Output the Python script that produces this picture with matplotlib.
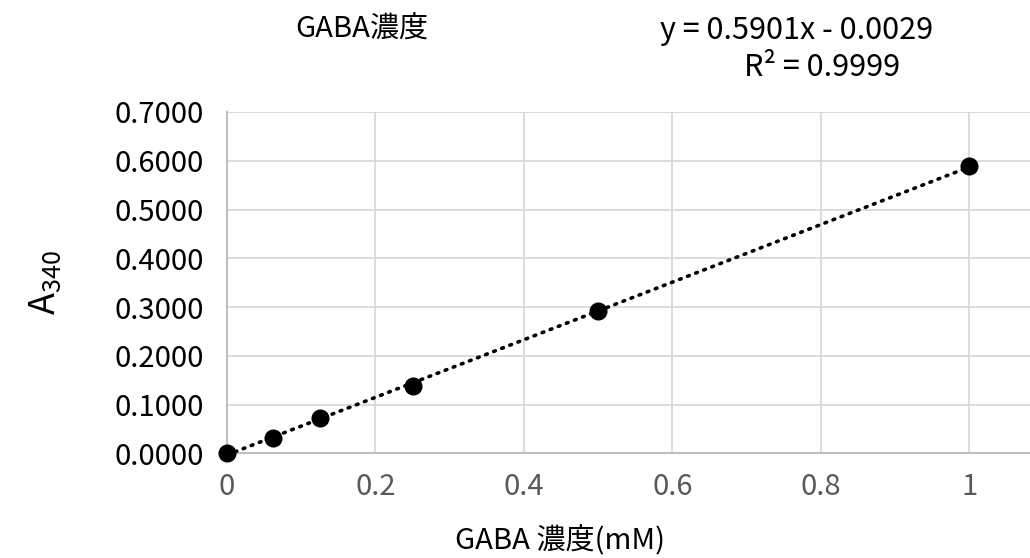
import numpy as np
import matplotlib
matplotlib.use("Agg")
import matplotlib.pyplot as plt

plt.rcParams['font.family'] = ['Noto Sans CJK JP', 'DejaVu Sans']
plt.rcParams['mathtext.fontset'] = 'custom'
plt.rcParams['mathtext.rm'] = 'Noto Sans CJK JP'
plt.rcParams['mathtext.it'] = 'Noto Sans CJK JP'

# data
conc = [0, 0.0625, 0.125, 0.25, 0.5, 1.0]
a340 = [0.0000, 0.0324, 0.0723, 0.1392, 0.2926, 0.5897]
slope = 0.5901
intercept = -0.0029
xticks = [0, 0.2, 0.4, 0.6, 0.8, 1]
xtick_labels = ["0", "0.2", "0.4", "0.6", "0.8", "1"]
yticks = [0.0, 0.1, 0.2, 0.3, 0.4, 0.5, 0.6, 0.7]

fig = plt.figure(figsize=(10.30, 5.58), dpi=100)
ax = fig.add_axes([0.2204, 0.1873, 0.7796, 0.6120])

# trendline
xs = np.array([0.0, 1.0])
ax.plot(xs, slope * xs + intercept, color="black", linestyle=(0, (0.5, 1.9)),
        linewidth=2.6, dash_capstyle="round", zorder=3)
ax.plot(conc, a340, "o", color="black", markersize=12, zorder=4, clip_on=False)

ax.set_xlim(0, 1.082)
ax.set_ylim(0, 0.7)
ax.set_xticks(xticks)
ax.set_xticklabels(xtick_labels)
ax.set_yticks(yticks)
ax.set_yticklabels(["{:.4f}".format(v) for v in yticks])
ax.tick_params(axis="x", length=0, pad=13, labelsize=21, labelcolor="#595959")
ax.tick_params(axis="y", length=0, pad=17, labelsize=21, labelcolor="black")

ax.grid(True, color="#d9d9d9", linewidth=1.3)
ax.set_axisbelow(True)
for s in ["top", "right"]:
  ax.spines[s].set_visible(False)
for s in ["left", "bottom"]:
  ax.spines[s].set_color("#bfbfbf")
  ax.spines[s].set_linewidth(1.5)

fig.text(362 / 1030, 1 - 30 / 558, "GABA濃度", ha="center", va="center", fontsize=21)
fig.text(797 / 1030, 1 - 30 / 558, "y = 0.5901x - 0.0029", ha="center", va="center", fontsize=22)
fig.text(822 / 1030, 1 - 67 / 558, "R² = 0.9999", ha="center", va="center", fontsize=22)
fig.text(560 / 1030, 1 - 541 / 558, "GABA 濃度(mM)", ha="center", va="center", fontsize=21)
fig.text(45 / 1030, 1 - 282 / 558, r"A$_{340}$", ha="center", va="center", rotation=90, fontsize=26)

fig.savefig("out.png", dpi=100)
